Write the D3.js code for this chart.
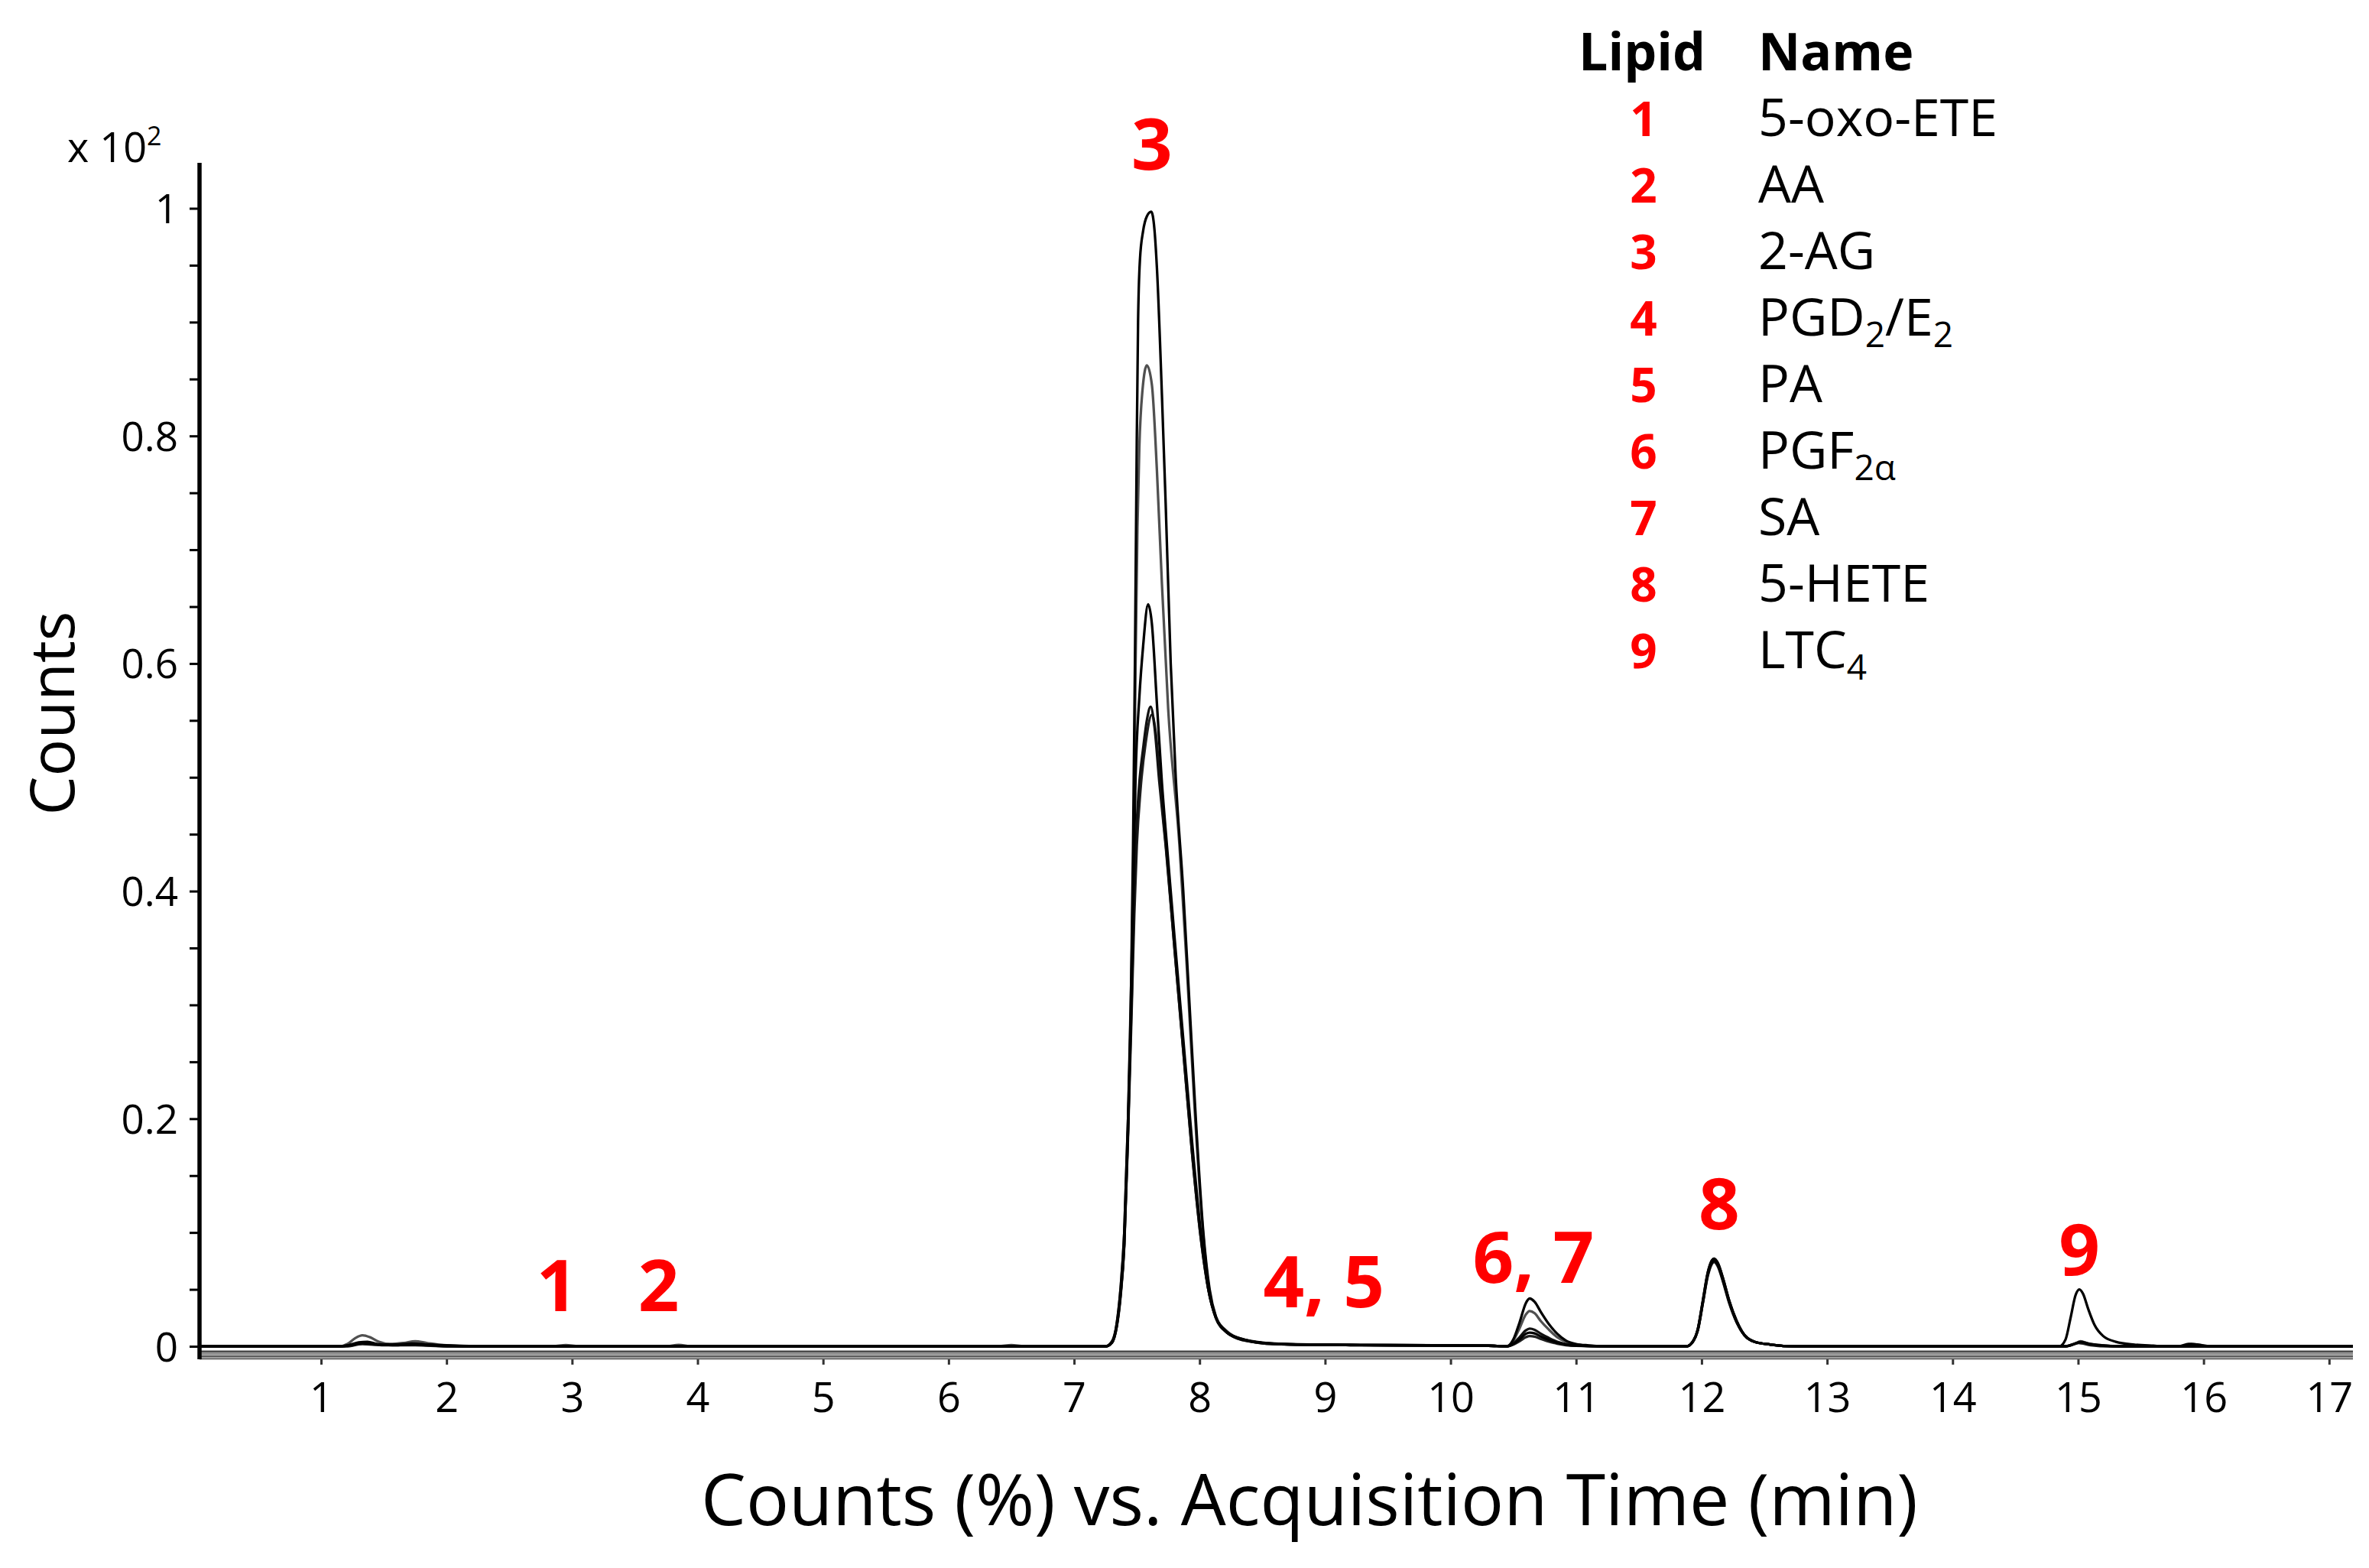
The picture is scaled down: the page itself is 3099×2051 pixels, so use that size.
<!DOCTYPE html>
<html>
<head>
<meta charset="utf-8">
<script src="https://cdn.jsdelivr.net/npm/d3@7"></script>
<style>
  html, body { margin: 0; padding: 0; background: #fff; }
  svg { display: block; }
</style>
</head>
<body>
<svg id="chart" width="3099" height="2051"></svg>
<script>
// ---------------- DATA ----------------
const xTickValues = [1,2,3,4,5,6,7,8,9,10,11,12,13,14,15,16,17];
const yTickValues = [0,0.05,0.1,0.15,0.2,0.25,0.3,0.35,0.4,0.45,0.5,0.55,0.6,0.65,0.7,0.75,0.8,0.85,0.9,0.95,1];
const yLabeledTicks = [0,0.2,0.4,0.6,0.8,1];

// peak labels (red)
const peakLabels = ["1","2","3","4, 5","6, 7","8","9"];
const peakLabelTime = [2.88, 3.69, 7.62, 8.99, 10.66, 12.14, 15.01];
const peakLabelLevel = [0.031, 0.031, 1.034, 0.034, 0.056, 0.103, 0.0625];

// legend
const legendIds = ["1","2","3","4","5","6","7","8","9"];
const legendNames = ["5-oxo-ETE","AA","2-AG","PGD_{2}/E_{2}","PA","PGF_{2α}","SA","5-HETE","LTC_{4}"];

// chromatogram traces: [time (min), counts (x10^2)]
const traceA = [
 [0.04,0],[1.15,0],[1.22,0.001],[1.30,0.0035],[1.37,0.004],[1.45,0.002],[1.58,0.0015],[1.72,0.0025],[1.85,0.0015],[2.05,0.0005],[2.3,0],
 [7.25,0],[7.30,0.004],[7.34,0.02],[7.37,0.05],[7.40,0.10],[7.43,0.20],[7.455,0.32],[7.47,0.44],[7.485,0.60],[7.50,0.80],[7.51,0.90],[7.525,0.955],[7.55,0.98],[7.58,0.993],[7.615,0.997],[7.64,0.982],[7.66,0.948],[7.70,0.836],[7.73,0.74],[7.77,0.60],[7.81,0.50],[7.87,0.40],[7.92,0.30],[7.97,0.20],[8.03,0.10],[8.08,0.05],[8.13,0.026],[8.2,0.014],[8.3,0.007],[8.5,0.003],[8.8,0.0015],[9.5,0.001],[10.3,0.0005],[10.45,0],
 [10.50,0.002],[10.55,0.006],[10.60,0.011],[10.63,0.012],[10.67,0.0113],[10.72,0.0086],[10.78,0.0058],[10.85,0.003],[10.92,0.0015],[11.0,0.0006],[11.25,0],
 [11.88,0],[11.93,0.004],[11.97,0.015],[12.01,0.04],[12.05,0.065],[12.08,0.075],[12.10,0.077],[12.13,0.073],[12.17,0.06],[12.22,0.04],[12.28,0.022],[12.34,0.01],[12.42,0.004],[12.55,0.0015],[12.75,0],
 [14.9,0],[14.97,0.002],[15.02,0.004],[15.08,0.0025],[15.2,0.0008],[15.35,0],[15.8,0],[15.88,0.002],[15.95,0.0015],[16.05,0],[17.19,0]
];
const traceB = [
 [0.04,0],[1.15,0],[1.21,0.002],[1.27,0.007],[1.33,0.0097],[1.39,0.008],[1.46,0.004],[1.55,0.002],[1.66,0.003],[1.75,0.0045],[1.84,0.003],[1.95,0.0012],[2.2,0],
 [2.85,0],[2.95,0.001],[3.05,0],[3.75,0],[3.85,0.0012],[3.95,0],[6.4,0],[6.5,0.001],[6.6,0],
 [7.25,0],[7.30,0.003],[7.34,0.02],[7.37,0.05],[7.40,0.10],[7.43,0.20],[7.455,0.32],[7.475,0.44],[7.49,0.60],[7.505,0.72],[7.52,0.79],[7.545,0.84],[7.58,0.862],[7.62,0.845],[7.66,0.77],[7.70,0.67],[7.75,0.56],[7.84,0.44],[7.90,0.33],[7.96,0.21],[8.02,0.11],[8.07,0.055],[8.12,0.028],[8.2,0.014],[8.3,0.007],[8.5,0.003],[8.8,0.0015],[9.5,0.001],[10.3,0.0005],[10.45,0],
 [10.50,0.005],[10.55,0.016],[10.60,0.028],[10.63,0.031],[10.67,0.029],[10.72,0.022],[10.78,0.015],[10.85,0.008],[10.92,0.004],[11.0,0.0015],[11.1,0.0006],[11.25,0],
 [11.88,0],[11.93,0.004],[11.97,0.015],[12.01,0.039],[12.05,0.064],[12.08,0.074],[12.10,0.076],[12.13,0.072],[12.17,0.059],[12.22,0.04],[12.28,0.022],[12.34,0.01],[12.42,0.004],[12.55,0.0015],[12.75,0],
 [14.9,0],[14.97,0.002],[15.02,0.0045],[15.08,0.0025],[15.2,0.0008],[15.35,0],[15.85,0],[15.9,0.002],[15.98,0.001],[16.05,0],[17.19,0]
];
const traceC = [
 [0.04,0],[1.15,0],[1.25,0.0015],[1.33,0.003],[1.42,0.002],[1.6,0.001],[1.75,0.002],[1.9,0.001],[2.2,0],
 [7.25,0],[7.30,0.003],[7.34,0.018],[7.37,0.045],[7.40,0.09],[7.43,0.19],[7.455,0.30],[7.475,0.42],[7.49,0.50],[7.52,0.57],[7.55,0.615],[7.59,0.652],[7.62,0.635],[7.66,0.565],[7.70,0.495],[7.74,0.44],[7.80,0.36],[7.87,0.27],[7.94,0.18],[8.01,0.10],[8.07,0.05],[8.13,0.025],[8.22,0.012],[8.35,0.006],[8.6,0.0025],[9.0,0.0015],[9.6,0.001],[10.3,0.0005],[10.45,0],
 [10.50,0.006],[10.55,0.021],[10.60,0.038],[10.63,0.042],[10.67,0.039],[10.72,0.030],[10.78,0.020],[10.85,0.011],[10.92,0.005],[11.0,0.002],[11.1,0.0008],[11.25,0],
 [11.88,0],[11.93,0.004],[11.97,0.014],[12.01,0.038],[12.05,0.063],[12.08,0.073],[12.10,0.075],[12.13,0.071],[12.17,0.058],[12.22,0.039],[12.28,0.021],[12.34,0.01],[12.42,0.004],[12.55,0.0015],[12.75,0],
 [14.85,0],[14.90,0.006],[14.94,0.025],[14.98,0.045],[15.01,0.050],[15.04,0.046],[15.08,0.033],[15.13,0.019],[15.2,0.009],[15.3,0.004],[15.45,0.0015],[15.6,0.0005],[15.7,0],[17.19,0]
];
const traceD = [
 [0.04,0],[1.15,0],[1.25,0.001],[1.33,0.0025],[1.45,0.0015],[1.75,0.0015],[2.0,0],
 [7.25,0],[7.30,0.003],[7.34,0.018],[7.37,0.045],[7.40,0.09],[7.43,0.19],[7.46,0.31],[7.48,0.40],[7.50,0.46],[7.52,0.495],[7.55,0.525],[7.58,0.55],[7.61,0.562],[7.64,0.545],[7.68,0.495],[7.73,0.44],[7.80,0.35],[7.87,0.26],[7.94,0.17],[8.01,0.095],[8.07,0.05],[8.13,0.025],[8.22,0.012],[8.35,0.006],[8.6,0.002],[9.2,0.001],[10.3,0.0005],[10.45,0],
 [10.50,0.0025],[10.55,0.008],[10.60,0.014],[10.63,0.0155],[10.67,0.0145],[10.72,0.011],[10.78,0.0075],[10.85,0.004],[10.92,0.002],[11.0,0.0008],[11.25,0],
 [11.88,0],[11.93,0.004],[11.97,0.015],[12.01,0.04],[12.05,0.065],[12.08,0.075],[12.10,0.077],[12.13,0.073],[12.17,0.06],[12.22,0.04],[12.28,0.022],[12.34,0.01],[12.42,0.004],[12.55,0.0015],[12.75,0],
 [14.9,0],[14.97,0.002],[15.02,0.0035],[15.08,0.002],[15.2,0.0005],[15.35,0],[17.19,0]
];
const traceE = [
 [0.04,0],[1.2,0],[1.33,0.002],[1.5,0.001],[1.75,0.001],[2.0,0],
 [7.25,0],[7.30,0.003],[7.34,0.017],[7.37,0.043],[7.40,0.088],[7.43,0.185],[7.46,0.30],[7.48,0.38],[7.50,0.44],[7.53,0.49],[7.57,0.53],[7.62,0.555],[7.65,0.54],[7.69,0.49],[7.74,0.43],[7.80,0.35],[7.87,0.26],[7.94,0.17],[8.01,0.095],[8.07,0.05],[8.13,0.026],[8.22,0.013],[8.35,0.006],[8.6,0.002],[9.2,0.001],[10.3,0.0005],[10.45,0],
 [10.50,0.0015],[10.55,0.0045],[10.60,0.008],[10.63,0.009],[10.67,0.0085],[10.72,0.0065],[10.78,0.0043],[10.85,0.0023],[10.92,0.001],[11.0,0.0004],[11.25,0],
 [11.88,0],[11.93,0.004],[11.97,0.014],[12.01,0.038],[12.05,0.062],[12.08,0.072],[12.10,0.074],[12.13,0.070],[12.17,0.057],[12.22,0.038],[12.28,0.021],[12.34,0.01],[12.42,0.004],[12.55,0.0015],[12.75,0],
 [14.9,0],[15.0,0.003],[15.1,0.001],[15.25,0],[17.19,0]
];
const traces = [traceB, traceE, traceD, traceC, traceA];
const traceColors = ["#505050", "#202020", "#111111", "#000000", "#000000"];

// ---------------- LAYOUT ----------------
const FONT = "'Open Sans', 'Noto Sans', sans-serif";
const svg = d3.select("#chart");

const x = d3.scaleLinear().domain([0, 17.19]).range([255.8, 3078]);
const y = d3.scaleLinear().domain([0, 1]).range([1761, 272.5]);

const axisX0 = 261;           // y-axis line x
const axisTop = 213;
const bandTop = 1768;

// grey stacked x-axis band
const bandLines = [
  {dy: 0, c: "#4a4a4a", w: 2.8},
  {dy: 3.2, c: "#8a8a8a", w: 2.2},
  {dy: 6.2, c: "#5a5a5a", w: 2.8},
  {dy: 9.2, c: "#7c7c7c", w: 2.6}
];
svg.append("g").selectAll("line").data(bandLines).join("line")
  .attr("x1", axisX0).attr("x2", x(17.19))
  .attr("y1", d => bandTop + d.dy).attr("y2", d => bandTop + d.dy)
  .attr("stroke", d => d.c).attr("stroke-width", d => d.w);

// x axis (ticks + labels)
const xAxis = d3.axisBottom(x).tickValues(xTickValues).tickSize(7).tickSizeOuter(0).tickPadding(24).tickFormat(d3.format("d"));
const gx = svg.append("g").attr("transform", `translate(0,${bandTop + 10})`).call(xAxis);
gx.select(".domain").remove();
gx.selectAll(".tick line").attr("stroke", "#333").attr("stroke-width", 3);
gx.selectAll(".tick text").attr("font-family", FONT).attr("font-size", 54).attr("fill", "#000");

// y axis
const yAxis = d3.axisLeft(y).tickValues(yTickValues).tickSize(13).tickSizeOuter(0).tickPadding(15)
  .tickFormat(d => yLabeledTicks.some(v => Math.abs(v - d) < 1e-9) ? String(+d.toFixed(1)) : "");
const gy = svg.append("g").attr("transform", `translate(${axisX0},0)`).call(yAxis);
gy.select(".domain").remove();
gy.selectAll(".tick line").attr("stroke", "#000").attr("stroke-width", 3);
gy.selectAll(".tick text").attr("font-family", FONT).attr("font-size", 53).attr("fill", "#000").attr("dy", "0.36em");

svg.append("line").attr("x1", axisX0).attr("x2", axisX0).attr("y1", axisTop).attr("y2", bandTop + 10)
  .attr("stroke", "#000").attr("stroke-width", 5.5);

// traces
const line = d3.line().x(d => x(d[0])).y(d => y(d[1])).curve(d3.curveMonotoneX);
svg.append("g").selectAll("path").data(traces).join("path")
  .attr("d", line)
  .attr("fill", "none")
  .attr("stroke", (d, i) => traceColors[i])
  .attr("stroke-width", 3.3)
  .attr("stroke-linejoin", "round");

// multiplier label
const mult = svg.append("text").attr("x", 88).attr("y", 212)
  .attr("font-family", FONT).attr("font-size", 54).attr("fill", "#000");
mult.append("tspan").text("x 10");
mult.append("tspan").attr("font-size", 34).attr("dy", -22).text("2");

// axis titles
function fit(sel, target) {
  const w = sel.node().getComputedTextLength();
  const fs = parseFloat(sel.attr("font-size"));
  sel.attr("font-size", fs * target / w);
}
const xTitle = svg.append("text").attr("x", 1713).attr("y", 1995).attr("text-anchor", "middle")
  .attr("font-family", FONT).attr("font-size", 88).attr("fill", "#000")
  .text("Counts (%) vs. Acquisition Time (min)");
fit(xTitle, 1592);

const yTitle = svg.append("text").attr("transform", "translate(97,933) rotate(-90)").attr("text-anchor", "middle")
  .attr("font-family", FONT).attr("font-size", 80).attr("fill", "#000").text("Counts");
fit(yTitle, 267);

// peak labels
svg.append("g").selectAll("text").data(peakLabels).join("text")
  .attr("x", (d, i) => x(peakLabelTime[i]))
  .attr("y", (d, i) => y(peakLabelLevel[i]))
  .attr("text-anchor", "middle")
  .attr("font-family", FONT).attr("font-weight", 700).attr("font-size", 94)
  .attr("fill", "#ff0000")
  .text(d => d);

// legend table
const legX1 = 2150, legX2 = 2300, legHeadY = 92, legRow0 = 178, legStep = 87;
svg.append("text").attr("x", 2148).attr("y", legHeadY).attr("text-anchor", "middle")
  .attr("font-family", FONT).attr("font-weight", 700).attr("font-size", 68).attr("fill", "#000").text("Lipid");
svg.append("text").attr("x", legX2).attr("y", legHeadY)
  .attr("font-family", FONT).attr("font-weight", 700).attr("font-size", 68).attr("fill", "#000").text("Name");

svg.append("g").selectAll("text").data(legendIds).join("text")
  .attr("x", legX1).attr("y", (d, i) => legRow0 + i * legStep)
  .attr("text-anchor", "middle")
  .attr("font-family", FONT).attr("font-weight", 700).attr("font-size", 62).attr("fill", "#ff0000")
  .text(d => d);

const nameG = svg.append("g");
legendNames.forEach((name, i) => {
  const t = nameG.append("text").attr("x", legX2).attr("y", legRow0 + i * legStep)
    .attr("font-family", FONT).attr("font-size", 68).attr("fill", "#000");
  const parts = name.split(/(_\{[^}]*\})/).filter(s => s.length);
  let sub = false;
  parts.forEach(p => {
    if (p.startsWith("_{")) {
      t.append("tspan").attr("font-size", 46).attr("dy", 15).text(p.slice(2, -1));
      sub = true;
    } else {
      const ts = t.append("tspan").text(p);
      if (sub) { ts.attr("dy", -15); sub = false; }
    }
  });
});
</script>
</body>
</html>
